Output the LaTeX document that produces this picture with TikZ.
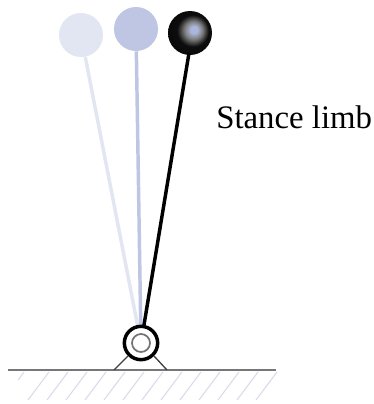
\documentclass[tikz,border=0pt]{standalone}
\usepackage{fontspec}
\setmainfont{Liberation Serif}
\definecolor{pale}{HTML}{E2E5F2}
\definecolor{mid}{HTML}{BFC6E3}
\definecolor{hl}{HTML}{AAB6DC}
\definecolor{hatchc}{HTML}{D8DBEA}
\definecolor{groundc}{HTML}{777777}
\pgfdeclareradialshading{stball}{\pgfpoint{5bp}{4bp}}{
  color(0bp)=(hl); color(4bp)=(hl); color(10bp)=(black!50); color(18bp)=(black!95); color(50bp)=(black)}
\tikzset{
  ballnode/.style={circle,draw=none,minimum size=33pt,inner sep=0pt},
  limb/.style={line width=2.6pt},
  groundline/.style={draw=groundc,line width=1.3pt},
  hatchline/.style={draw=hatchc,line width=.8pt},
  strut/.style={draw=black!75,line width=1pt}
}
\begin{document}
\begin{tikzpicture}[x=0.75pt,y=-0.75pt]
\useasboundingbox (0,0) rectangle (374,404);
\coordinate (p) at (141,343);
% hatching
\coordinate (ha) at (24,372);
\coordinate (hb) at (18,380);
\draw[hatchline] (ha) -- (hb);
\foreach \i in {0,...,12}{
  \coordinate (ha\i) at ({49+\i*19},372);
  \coordinate (hb\i) at ({28+\i*19},400);
  \draw[hatchline] (ha\i) -- (hb\i);
}
% ground
\coordinate (g1) at (8,370);
\coordinate (g2) at (276,370);
\coordinate (s1) at (114,370);
\coordinate (s2) at (167,370);
\draw[groundline] (g1) -- (g2);
% balls
\node[ballnode,fill=pale] (b1) at (81,35) {};
\node[ballnode,fill=mid] (b2) at (136,29) {};
\node[ballnode,shading=stball] (b3) at (190,33) {};
% limbs
\draw[limb,draw=pale] (b1) -- (p);
\draw[limb,draw=mid] (b2) -- (p);
\draw[limb,draw=black] (b3.center) ++(-1,20) -- (p);
% pivot
\node[circle,draw=black,line width=2.6pt,fill=white,minimum size=25pt,inner sep=0pt] (o) at (p) {};
\node[circle,draw=black!55,line width=1.3pt,fill=white,minimum size=13.5pt,inner sep=0pt] (i) at (p) {};
\draw[strut] (o.225) -- (s1);
\draw[strut] (o.-45) -- (s2);
\node[anchor=base west,inner sep=0pt,font=\fontsize{24.6pt}{28pt}\selectfont] (t) at (216,128) {Stance limb};
\end{tikzpicture}
\end{document}
